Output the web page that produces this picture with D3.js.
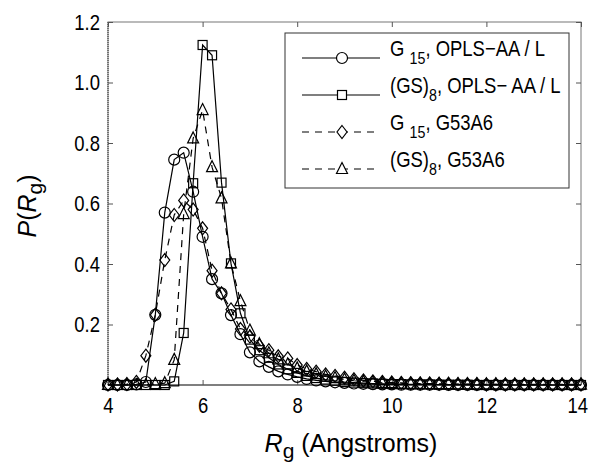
<!DOCTYPE html>
<html>
<head>
<meta charset="utf-8">
<script src="https://cdn.jsdelivr.net/npm/d3@7"></script>
<style>
  body { margin: 0; background: #fff; }
  svg text { font-family: "Liberation Sans", Arial, sans-serif; fill: #000; }
</style>
</head>
<body>
<svg id="chart" width="589" height="465"></svg>
<script>
// Rg grid, 4.0 .. 14.0 in steps of 0.2 Angstroms
const rg = d3.range(51).map(i => +(4 + i * 0.2).toFixed(1));

// P(Rg), one value per Rg point
const g15Opls = [0, 0, 0, 0.002, 0.01, 0.232, 0.570, 0.745, 0.768, 0.639, 0.490, 0.350, 0.303, 0.231, 0.168,
    0.108, 0.078, 0.060, 0.045, 0.035, 0.027, 0.020, 0.015, 0.012, 0.009, 0.007, 0.005, 0.004, 0.003, 0.002,
    0.002, 0.001, 0.001, 0.001, 0.001, 0.001, 0, 0, 0, 0, 0, 0, 0, 0, 0, 0, 0, 0, 0, 0, 0];
const gs8Opls = [0, 0, 0, 0, 0, 0, 0, 0.012, 0.172, 0.667, 1.124, 1.090, 0.669, 0.402, 0.237,
    0.150, 0.115, 0.090, 0.068, 0.052, 0.040, 0.030, 0.023, 0.018, 0.014, 0.010, 0.008, 0.006, 0.005, 0.004,
    0.003, 0.003, 0.002, 0.002, 0.002, 0.001, 0.001, 0.001, 0.001, 0, 0, 0, 0, 0, 0, 0, 0, 0, 0, 0, 0];
const g15G53 = [0.002, 0.002, 0.003, 0.010, 0.097, 0.232, 0.413, 0.562, 0.610, 0.580, 0.518, 0.378, 0.303, 0.250, 0.185,
    0.160, 0.130, 0.115, 0.095, 0.088, 0.066, 0.053, 0.044, 0.035, 0.030, 0.024, 0.019, 0.015, 0.012, 0.010,
    0.008, 0.007, 0.006, 0.005, 0.005, 0.004, 0.004, 0.003, 0.003, 0.003, 0.002, 0.002, 0.002, 0.002, 0.002,
    0.002, 0.002, 0.002, 0.002, 0.002, 0.002];
const gs8G53 = [0, 0, 0, 0, 0, 0.003, 0.006, 0.083, 0.565, 0.815, 0.909, 0.720, 0.617, 0.402, 0.277,
    0.180, 0.135, 0.105, 0.085, 0.068, 0.055, 0.045, 0.036, 0.028, 0.023, 0.018, 0.014, 0.011, 0.009, 0.007,
    0.006, 0.005, 0.004, 0.004, 0.003, 0.003, 0.003, 0.002, 0.002, 0.002, 0.002, 0.002, 0.001, 0.001, 0.001,
    0.001, 0.001, 0.001, 0.001, 0.001, 0.001];

const xTicks = [4, 6, 8, 10, 12, 14];
const yTicks = [0.2, 0.4, 0.6, 0.8, 1.0, 1.2];

const series = [
    {values: g15Opls, marker: "circle", dash: null, name: "G", sub: "15", rest: ", OPLS\u2212AA / L", subSpace: true},
    {values: gs8Opls, marker: "square", dash: null, name: "(GS)", sub: "8", rest: ", OPLS\u2212 AA / L", subSpace: false},
    {values: g15G53, marker: "diamond", dash: "7,6", name: "G", sub: "15", rest: ", G53A6", subSpace: true},
    {values: gs8G53, marker: "triangle", dash: "7,6", name: "(GS)", sub: "8", rest: ", G53A6", subSpace: false}
];

const margin = {top: 22, right: 8, bottom: 80, left: 108};
const svg = d3.select("#chart");
const width = 589 - margin.left - margin.right;
const height = 465 - margin.top - margin.bottom;
const squeeze = 0.84; // the figure's lettering is condensed

const chart = svg.append("g").attr("transform", `translate(${margin.left},${margin.top})`);

const x = d3.scaleLinear().domain([4, 14]).range([0, width]);
const y = d3.scaleLinear().domain([0, 1.2]).range([height, 0]);

// marker drawing
function drawMarker(sel, type) {
    if (type === "circle") {
        sel.append("circle").attr("r", 5.5);
    } else if (type === "square") {
        sel.append("rect").attr("x", -4.5).attr("y", -4.5).attr("width", 9).attr("height", 9);
    } else if (type === "diamond") {
        sel.append("path").attr("d", "M0,-6.5L5,0L0,6.5L-5,0Z");
    } else {
        sel.append("path").attr("d", "M0,-6.5L5.5,4.5L-5.5,4.5Z");
    }
}

// axes frame and ticks
const frame = chart.append("g").attr("class", "frame");
frame.append("rect").attr("width", width).attr("height", height)
    .attr("fill", "none").attr("stroke", "#777").attr("stroke-width", 1);
frame.append("line").attr("x1", 0).attr("x2", 0).attr("y1", 0).attr("y2", height)
    .attr("stroke", "#444").attr("stroke-width", 1.2).attr("stroke-dasharray", "1,1");
frame.append("line").attr("x1", 0).attr("x2", width).attr("y1", height).attr("y2", height)
    .attr("stroke", "#444").attr("stroke-width", 1.2);

const xAxis = d3.axisBottom(x).tickValues(xTicks).tickSize(-5).tickPadding(12).tickFormat(d3.format("d"));
const yAxis = d3.axisLeft(y).tickValues(yTicks).tickSize(-5).tickPadding(8).tickFormat(d3.format(".1f"));

chart.append("g").attr("transform", `translate(0,${height})`).call(xAxis)
    .call(g => g.select(".domain").remove())
    .call(g => g.selectAll(".tick line").attr("stroke", "#555"))
    .call(g => g.selectAll(".tick text").style("font-size", "22px").attr("font-family", null)
        .attr("transform", `scale(${squeeze},1)`))
    .call(g => g.selectAll(".tick text").filter(d => d === 14).attr("dx", "-0.2em"));
chart.append("g").call(yAxis)
    .call(g => g.select(".domain").remove())
    .call(g => g.selectAll(".tick line").attr("stroke", "#555"))
    .call(g => g.selectAll(".tick text").style("font-size", "22px").attr("font-family", null)
        .attr("x", -8 / squeeze).attr("transform", `scale(${squeeze},1)`));
// mirrored ticks on top and right
chart.append("g").call(d3.axisTop(x).tickValues(xTicks).tickSize(-5).tickFormat(""))
    .call(g => g.select(".domain").remove())
    .call(g => g.selectAll(".tick line").attr("stroke", "#555"));
chart.append("g").attr("transform", `translate(${width},0)`)
    .call(d3.axisRight(y).tickValues(yTicks).tickSize(-5).tickFormat(""))
    .call(g => g.select(".domain").remove())
    .call(g => g.selectAll(".tick line").attr("stroke", "#555"));

// lines and markers
const line = d3.line().x((d, i) => x(rg[i])).y(d => y(d));
series.forEach(s => {
    chart.append("path").datum(s.values)
        .attr("d", line)
        .attr("fill", "none")
        .attr("stroke", "#000")
        .attr("stroke-width", 1.2)
        .attr("stroke-dasharray", s.dash);
    chart.append("g").selectAll("g")
        .data(s.values)
        .join("g")
        .attr("transform", (d, i) => `translate(${x(rg[i])},${y(d)})`)
        .attr("fill", "none").attr("stroke", "#000").attr("stroke-width", 1.2)
        .each(function () { drawMarker(d3.select(this), s.marker); });
});

// legend
const legend = svg.append("g").attr("transform", "translate(285,33)");
legend.append("rect").attr("width", 284).attr("height", 155)
    .attr("fill", "#fff").attr("stroke", "#333").attr("stroke-width", 1);
series.forEach((s, i) => {
    const row = legend.append("g").attr("transform", `translate(0,${25 + i * 37})`);
    row.append("line").attr("x1", 17).attr("x2", 95).attr("y1", 0).attr("y2", 0)
        .attr("stroke", "#000").attr("stroke-width", 1.2).attr("stroke-dasharray", s.dash);
    const m = row.append("g").attr("transform", "translate(57,0)")
        .attr("fill", "#fff").attr("stroke", "#000").attr("stroke-width", 1.2);
    drawMarker(m, s.marker);
    const t = row.append("text").attr("transform", `translate(105,0) scale(${squeeze},1)`)
        .attr("dy", "-2px").style("font-size", "22px");
    t.append("tspan").text(s.name + (s.subSpace ? " " : ""));
    t.append("tspan").attr("dy", "8px").style("font-size", "17px").text(s.sub);
    t.append("tspan").attr("dy", "-8px").text(s.rest);
});

// axis titles
const xTitle = svg.append("text").attr("x", 351).attr("y", 452).attr("text-anchor", "middle").style("font-size", "25px");
xTitle.append("tspan").style("font-style", "italic").text("R");
xTitle.append("tspan").attr("dy", "6px").style("font-size", "21px").text("g");
xTitle.append("tspan").attr("dy", "-6px").text(" (Angstroms)");

const yTitle = svg.append("text").attr("transform", "translate(36,206) rotate(-90)")
    .attr("text-anchor", "middle").style("font-size", "25px");
yTitle.append("tspan").style("font-style", "italic").text("P");
yTitle.append("tspan").text("(");
yTitle.append("tspan").style("font-style", "italic").text("R");
yTitle.append("tspan").attr("dy", "6px").style("font-size", "21px").text("g");
yTitle.append("tspan").attr("dy", "-6px").text(")");
</script>
</body>
</html>
